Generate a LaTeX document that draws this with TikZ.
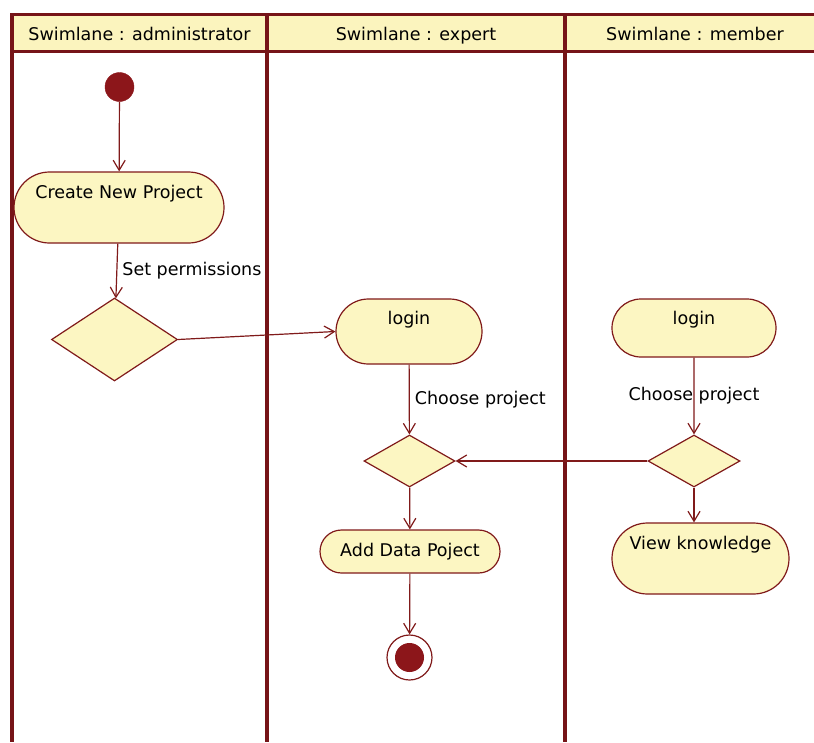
\documentclass[tikz,border=0pt]{standalone}
\usepackage{fontspec}
\setmainfont{DejaVu Sans}
\usetikzlibrary{shapes.geometric,shapes.misc,arrows.meta}
\definecolor{lane}{RGB}{118,20,24}
\definecolor{edge}{RGB}{128,26,26}
\definecolor{actfill}{RGB}{252,246,194}
\definecolor{headfill}{RGB}{251,244,190}
\definecolor{dot}{RGB}{140,22,26}
\begin{document}
\begin{tikzpicture}[x=1pt,y=-1pt,
  every node/.style={font=\fontsize{17.5}{20}\selectfont, text=black},
  action/.style={rounded rectangle, draw=edge, line width=1.2pt, fill=actfill, inner sep=0pt},
  decision/.style={diamond, draw=edge, line width=1.2pt, fill=actfill, inner sep=0pt},
  flow/.style={draw=edge, line width=1.2pt, -{Straight Barb[length=10pt,width=12pt,line width=1.2pt]}},
  lanerule/.style={draw=lane, line width=3.6pt},
  headrule/.style={draw=lane, line width=2.8pt},
  lanehead/.style={inner sep=0pt, anchor=base},
  raised/.style={text height=12pt, text depth=#1},
  flowlabel/.style={inner sep=0pt},
]
\useasboundingbox (0,0) rectangle (814,742);
\fill[white] (0,0) rectangle (814,742);

% swimlane header band and lane borders
\fill[headfill] (12,14) rectangle (814,52);
\draw[headrule] (10.2,14.5) -- (814,14.5);
\draw[headrule] (12,51.5) -- (814,51.5);
\draw[lanerule] (12,13) -- (12,742);
\draw[lanerule] (267,13) -- (267,742);
\draw[lanerule] (565,13) -- (565,742);
\node[lanehead] (h1) at (139.5,40) {Swimlane : administrator};
\node[lanehead] (h2) at (416,40) {Swimlane : expert};
\node[lanehead] (h3) at (695,40) {Swimlane : member};

% administrator lane
\node[circle, fill=dot, draw=dot, minimum size=29pt, inner sep=0pt] (start) at (119.5,87) {};
\node[action, minimum width=210pt, minimum height=71pt, raised=31pt] (create) at (119,207.5) {Create New Project};
\node[decision, minimum width=126pt, minimum height=83pt] (d1) at (114.5,339.5) {};

% expert lane
\node[action, minimum width=146pt, minimum height=65pt, raised=26pt] (login1) at (409,331.5) {login};
\node[decision, minimum width=91pt, minimum height=52pt] (d2) at (409.5,461) {};
\node[action, minimum width=180pt, minimum height=43pt] (adddata) at (410,551.5) {Add Data Poject};
\node[circle, draw=edge, line width=1.2pt, fill=white, minimum size=45pt, inner sep=0pt] (final) at (409.5,657.5) {};
\node[circle, fill=dot, minimum size=29pt, inner sep=0pt] (finaldot) at (final.center) {};

% member lane
\node[action, minimum width=164pt, minimum height=58pt, raised=20pt] (login2) at (694,328) {login};
\node[decision, minimum width=92pt, minimum height=52pt] (d3) at (694,461) {};
\node[action, minimum width=177pt, minimum height=71pt, raised=31pt] (view) at (700.5,558.5) {View knowledge};

% control flows
\draw[flow] (start) -- (create);
\draw[flow] (create) -- node[flowlabel, anchor=west, xshift=5pt] (l1) {Set permissions} (d1);
\draw[flow] (d1.east) -- (login1.west);
\draw[flow] (login1) -- node[flowlabel, anchor=west, xshift=5pt] (l2) {Choose project} (d2);
\draw[flow] (login2) -- node[flowlabel] (l3) {Choose project} (d3);
\draw[flow] (d3.west) -- (d2.east);
\draw[flow] (d2) -- (adddata);
\draw[flow] (adddata) -- (final);
\draw[flow] (d3.south) -- (d3.south |- view.north);
\end{tikzpicture}
\end{document}
